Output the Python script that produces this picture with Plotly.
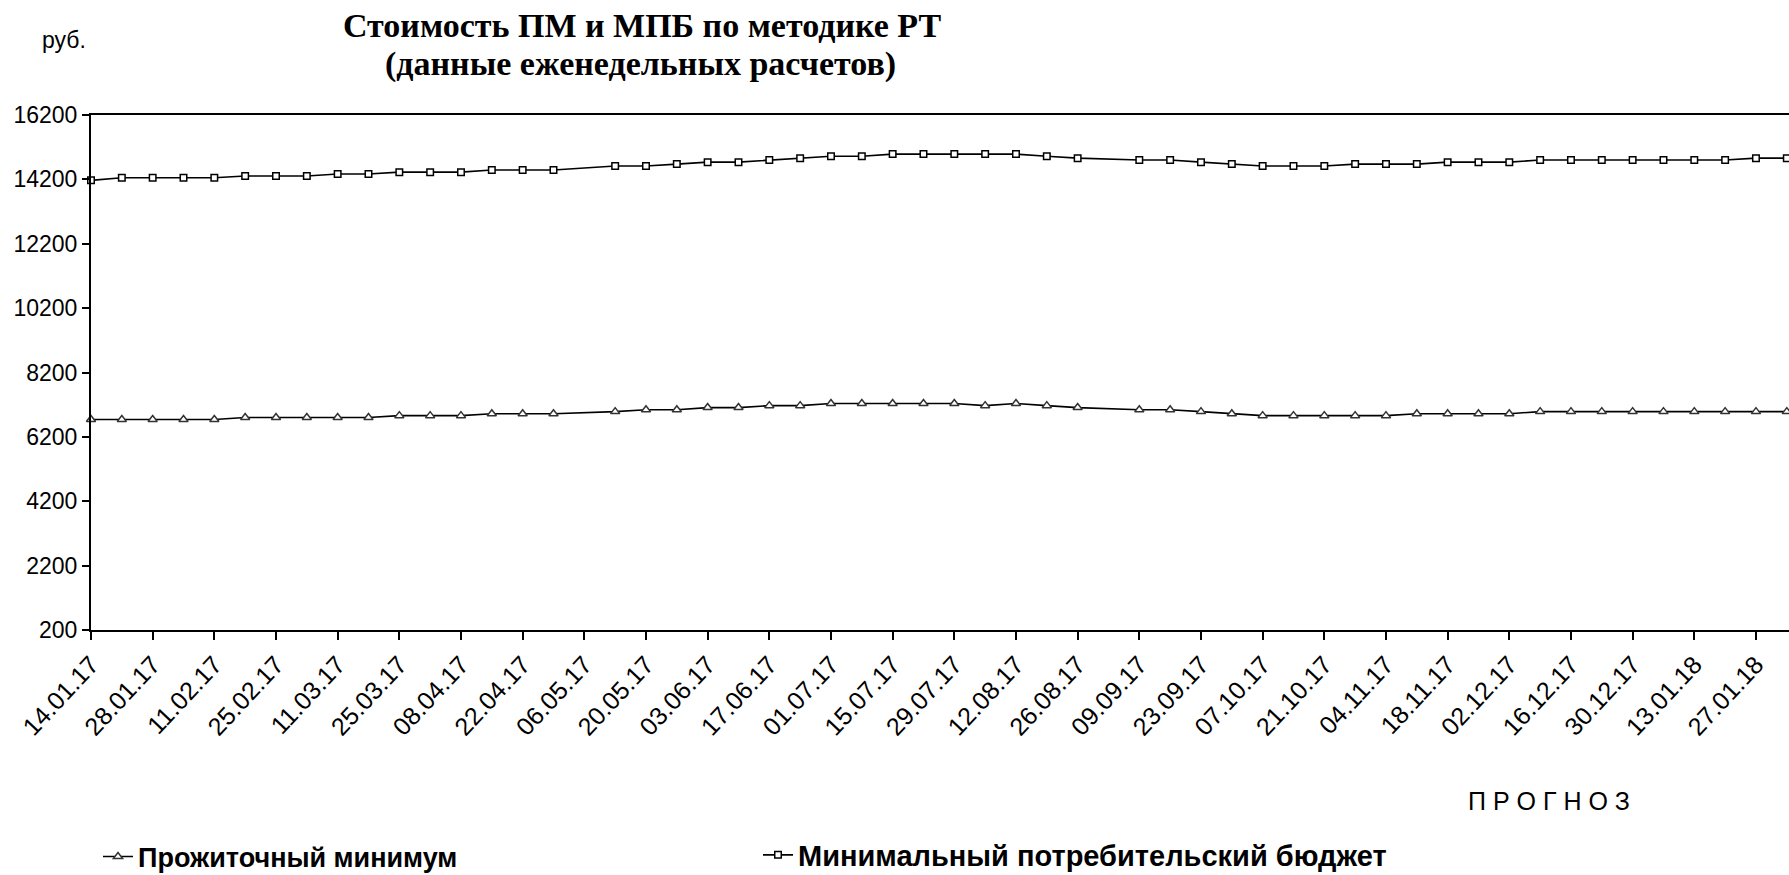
import plotly.graph_objects as go

# ---- data ----
dates = [
    "2017-01-14", "2017-01-21", "2017-01-28", "2017-02-04", "2017-02-11", "2017-02-18",
    "2017-02-25", "2017-03-04", "2017-03-11", "2017-03-18", "2017-03-25", "2017-04-01",
    "2017-04-08", "2017-04-15", "2017-04-22", "2017-04-29", "2017-05-13", "2017-05-20",
    "2017-05-27", "2017-06-03", "2017-06-10", "2017-06-17", "2017-06-24", "2017-07-01",
    "2017-07-08", "2017-07-15", "2017-07-22", "2017-07-29", "2017-08-05", "2017-08-12",
    "2017-08-19", "2017-08-26", "2017-09-09", "2017-09-16", "2017-09-23", "2017-09-30",
    "2017-10-07", "2017-10-14", "2017-10-21", "2017-10-28", "2017-11-04", "2017-11-11",
    "2017-11-18", "2017-11-25", "2017-12-02", "2017-12-09", "2017-12-16", "2017-12-23",
    "2017-12-30", "2018-01-06", "2018-01-13", "2018-01-20", "2018-01-27", "2018-02-03",
]
pm = [
    6740, 6740, 6740, 6740, 6740, 6800, 6800, 6800, 6800, 6800, 6860, 6860,
    6860, 6920, 6920, 6920, 6985, 7045, 7045, 7110, 7110, 7170, 7170, 7235,
    7235, 7235, 7235, 7235, 7170, 7235, 7170, 7110, 7045, 7045, 6985, 6920,
    6860, 6860, 6860, 6860, 6860, 6920, 6920, 6920, 6920, 6985, 6985, 6985,
    6985, 6985, 6985, 6985, 6985, 6985,
]
mpb = [
    14170, 14250, 14250, 14250, 14250, 14305, 14305, 14305, 14365, 14365, 14425, 14425,
    14425, 14490, 14490, 14490, 14615, 14615, 14675, 14735, 14735, 14800, 14860, 14920,
    14920, 14985, 14985, 14985, 14985, 14985, 14920, 14860, 14800, 14800, 14735, 14675,
    14615, 14615, 14615, 14675, 14675, 14675, 14735, 14735, 14735, 14800, 14800, 14800,
    14800, 14800, 14800, 14800, 14860, 14860,
]
y_ticks = [200, 2200, 4200, 6200, 8200, 10200, 12200, 14200, 16200]
name_pm = "Прожиточный минимум"
name_mpb = "Минимальный потребительский бюджет"
title1 = "Стоимость ПМ и МПБ по методике РТ"
title2 = "(данные еженедельных расчетов)"
unit = "руб."
forecast = "П Р О Г Н О З"

# ---- layout geometry (pixels) ----
W, H = 1789, 875
L, R, T, B = 91, 0, 115, 245
PW, PH = W - L - R, H - T - B


def px(x):
    return (x - L) / PW


def py(y):
    return (H - B - y) / PH


SANS = "Liberation Sans, Arial, sans-serif"
SERIF = "Liberation Serif, Times New Roman, serif"

fig = go.Figure()
fig.add_trace(go.Scatter(
    x=dates, y=pm, name=name_pm, mode="lines+markers",
    line=dict(color="black", width=1.6),
    marker=dict(symbol="triangle-up", size=8, color="white",
                line=dict(color="#333333", width=1.5)),
    cliponaxis=False, legend="legend",
))
fig.add_trace(go.Scatter(
    x=dates, y=mpb, name=name_mpb, mode="lines+markers",
    line=dict(color="black", width=1.6),
    marker=dict(symbol="square", size=6.5, color="white",
                line=dict(color="black", width=1.5)),
    cliponaxis=False, legend="legend2",
))

fig.update_layout(
    width=W, height=H,
    margin=dict(l=L, r=R, t=T, b=B, pad=0, autoexpand=False),
    paper_bgcolor="white", plot_bgcolor="white",
    font=dict(family=SANS, color="black", size=23),
    showlegend=True,
    legend=dict(
        orientation="h", x=px(98), xanchor="left", y=py(857), yanchor="middle",
        font=dict(family=SANS, size=27, color="black", weight="bold"),
        itemwidth=30, bgcolor="rgba(0,0,0,0)",
    ),
    legend2=dict(
        orientation="h", x=px(758), xanchor="left", y=py(855), yanchor="middle",
        font=dict(family=SANS, size=29, color="black", weight="bold"),
        itemwidth=30, bgcolor="rgba(0,0,0,0)",
    ),
    xaxis=dict(
        type="date",
        range=["2017-01-14", "2018-02-03 12:00"],
        tick0="2017-01-14", dtick=14 * 86400000,
        tickformat="%d.%m.%y", tickangle=-47,
        ticks="outside", ticklen=8, tickwidth=1.5, tickcolor="black",
        showline=True, linewidth=2, linecolor="black", mirror=True,
        showgrid=False, zeroline=False,
        tickfont=dict(family=SANS, size=25, color="black"),
    ),
    yaxis=dict(
        range=[200, 16200], tickvals=y_ticks, tickformat="d",
        ticks="outside", ticklen=7, tickwidth=1.5, tickcolor="black",
        showline=True, linewidth=2, linecolor="black",
        showgrid=False, zeroline=False,
        tickfont=dict(family=SANS, size=23, color="black"),
    ),
    annotations=[
        dict(text=f"<b>{title1}</b>", x=px(642), y=py(25), xref="paper", yref="paper",
             xanchor="center", yanchor="middle", showarrow=False,
             font=dict(family=SERIF, size=34, color="black")),
        dict(text=f"<b>{title2}</b>", x=px(640), y=py(64), xref="paper", yref="paper",
             xanchor="center", yanchor="middle", showarrow=False,
             font=dict(family=SERIF, size=34, color="black")),
        dict(text=unit, x=px(64), y=py(40), xref="paper", yref="paper",
             xanchor="center", yanchor="middle", showarrow=False,
             font=dict(family=SANS, size=23, color="black")),
        dict(text=forecast, x=px(1549), y=py(801), xref="paper", yref="paper",
             xanchor="center", yanchor="middle", showarrow=False,
             font=dict(family=SANS, size=25, color="black")),
    ],
)

fig.write_html("out.html", config={"displayModeBar": False},
               post_script="document.body.style.margin='0';")
